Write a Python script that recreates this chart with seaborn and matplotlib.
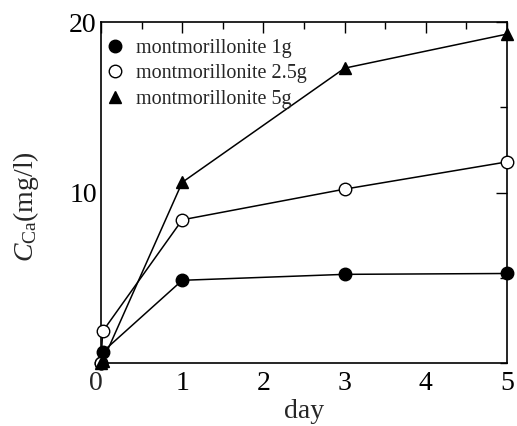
import matplotlib
matplotlib.use("Agg")
import matplotlib.pyplot as plt
from matplotlib.lines import Line2D
from matplotlib.ticker import MultipleLocator
import seaborn as sns
import pandas as pd

days = [0.0, 0.02, 1, 3, 5]
ca_1g = [0.0, 0.65, 4.85, 5.2, 5.25]
ca_25g = [0.0, 1.85, 8.4, 10.2, 11.8]
ca_5g = [0.0, 0.1, 10.6, 17.3, 19.3]
labels = ["montmorillonite 1g", "montmorillonite 2.5g", "montmorillonite 5g"]
xtick_vals = [0, 1, 2, 3, 4, 5]
xtick_labels = ["", "1", "2", "3", "4", "5"]

sns.set_style("white")
plt.rcParams['font.family'] = ['Liberation Serif', 'DejaVu Serif']
plt.rcParams['mathtext.fontset'] = 'custom'
plt.rcParams['mathtext.rm'] = 'Liberation Serif'
plt.rcParams['mathtext.it'] = 'Liberation Serif:italic'

fig = plt.figure(figsize=(5.17, 4.26), dpi=100)
ax = fig.add_axes([0.1954, 0.148, 0.7853, 0.800])

styles = [
    dict(marker='o', markerfacecolor='black'),
    dict(marker='o', markerfacecolor='white'),
    dict(marker='^', markerfacecolor='black'),
]
handles = []
for vals, lab, st in zip([ca_1g, ca_25g, ca_5g], labels, styles):
    df = pd.DataFrame({"day": days, "ca": vals})
    sns.lineplot(data=df, x="day", y="ca", ax=ax, color='black', lw=1.1,
                 marker=st['marker'], markerfacecolor=st['markerfacecolor'],
                 markeredgecolor='black', markeredgewidth=1.0, markersize=9,
                 clip_on=False, zorder=3, legend=False)
    handles.append(Line2D([], [], ls='none', marker=st['marker'],
                          markerfacecolor=st['markerfacecolor'],
                          markeredgecolor='black', markersize=9, label=lab))

ax.set_xlim(0, 5)
ax.set_ylim(0, 20)
ax.set_xticks(xtick_vals)
ax.set_xticklabels(xtick_labels)
ax.xaxis.set_minor_locator(MultipleLocator(0.5))
ax.yaxis.set_minor_locator(MultipleLocator(5))
ax.set_yticks([10, 20])
ax.set_yticklabels(["10", "20"])
ax.tick_params(which='both', direction='in', top=True, right=True,
               width=1.0, color='black', labelsize=20, labelcolor='black')
ax.tick_params(which='major', length=8)
ax.tick_params(which='minor', length=5)
ax.tick_params(axis='x', pad=6)
ax.tick_params(axis='y', pad=3)
for s in ax.spines.values():
    s.set_visible(True)
    s.set_color('black')
    s.set_linewidth(1.2)

# origin label "0", set slightly left of the origin as in the reference
ax.annotate("0", xy=(0, 0), xycoords=ax.get_xaxis_transform(),
            xytext=(1, -6), textcoords='offset points',
            ha='right', va='top', fontsize=20, annotation_clip=False)

ax.set_xlabel("day", fontsize=20, labelpad=2)
ax.set_ylabel(r"$\mathit{C}_{\mathrm{Ca}}\mathrm{(mg/l)}$", fontsize=20)
ax.yaxis.set_label_coords(-0.148, 0.46)

leg = ax.legend(handles=handles, loc='upper left', frameon=False, fontsize=14.5,
                handletextpad=0.55, borderaxespad=0.0, labelspacing=0.32,
                handlelength=1.0, borderpad=0.0,
                bbox_to_anchor=(0.01, 0.952))

fig.savefig("out.png", dpi=100)
